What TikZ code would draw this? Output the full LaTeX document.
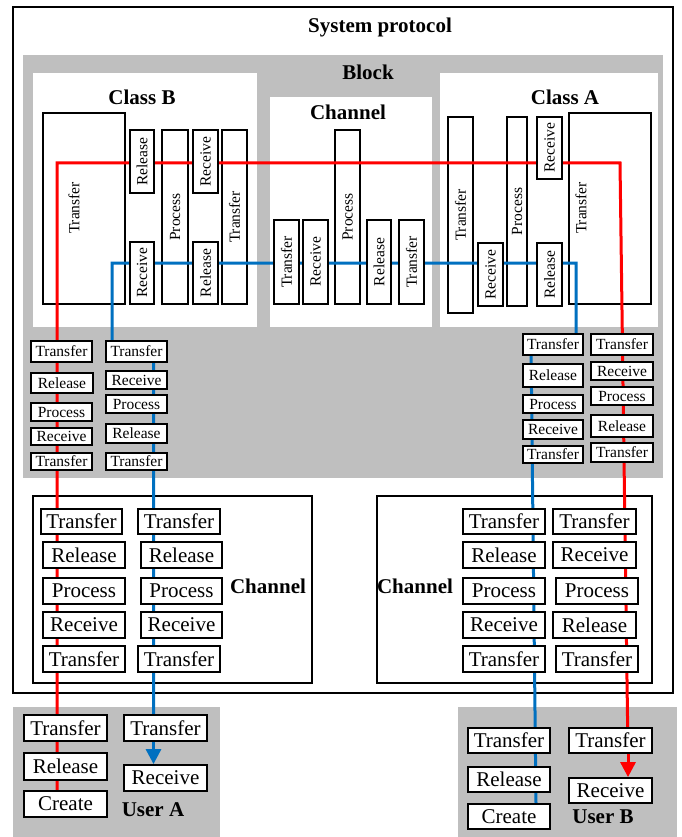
\documentclass[tikz,border=0pt]{standalone}
\usepackage{fontspec}
\setmainfont{Liberation Serif}
\usetikzlibrary{arrows.meta}
\pgfdeclarelayer{panel}
\pgfdeclarelayer{tall}
\pgfdeclarelayer{lines}
\pgfsetlayers{panel,tall,lines,main}
\definecolor{lgray}{RGB}{191,191,191}
\definecolor{lblue}{RGB}{0,112,192}
\newcommand{\hbx}[7]{\node[#1, minimum width={(#5-#3)*1pt}, minimum height={(#6-#4)*1pt}] (#2) at ({(#3+#5)/2},{(#4+#6)/2}) {#7};}
\newcommand{\vbx}[7]{\node[#1, rotate=90, minimum width={(#6-#4)*1pt}, minimum height={(#5-#3)*1pt}] (#2) at ({(#3+#5)/2},{(#4+#6)/2}) {#7};}
\tikzset{
  sbox/.style={draw, line width=1.8pt, fill=white, inner sep=0pt, font=\fontsize{15.5}{17}\selectfont},
  lbox/.style={draw, line width=1.8pt, fill=white, inner sep=0pt, font=\fontsize{21}{23}\selectfont},
  ttl/.style={font=\bfseries\fontsize{21}{23}\selectfont, inner sep=0pt},
  vtxt/.style={font=\fontsize{15.5}{17}\selectfont, inner sep=0pt, rotate=90},
  redl/.style={draw=red, line width=3pt},
  bluel/.style={draw=lblue, line width=3pt},
  tipped/.style={-{Triangle[length=15pt,width=15pt]}},
  frame/.style={draw, line width=1.6pt}
}
\begin{document}
\begin{tikzpicture}[x=1pt,y=-1pt]
\useasboundingbox (0,0) rectangle (681,837);
\begin{pgfonlayer}{panel}
\fill[white] (0,0) rectangle (681,837);
\draw[frame] (13,7) rectangle (673,693);
\fill[lgray] (23,55) rectangle (663,478);
\fill[white] (33,73) rectangle (257,327);
\fill[white] (270,97) rectangle (432,327);
\fill[white] (440,73) rectangle (658,327);
\draw[frame, fill=white] (33,496) rectangle (312,683);
\draw[frame, fill=white] (377,496) rectangle (652,683);
\fill[lgray] (13,707) rectangle (220,837);
\fill[lgray] (458,707) rectangle (677,837);
\end{pgfonlayer}
% titles
\node[ttl] (tSys) at (380,27) {System protocol};
\node[ttl] (tBlock) at (368,72) {Block};
\node[ttl] (tClB) at (142,97) {Class B};
\node[ttl] (tCh) at (348,112) {Channel};
\node[ttl] (tClA) at (565,97) {Class A};
\node[ttl] (tChL) at (268,586) {Channel};
\node[ttl] (tChR) at (415,586) {Channel};
\node[ttl] (tUA) at (153,810) {User A};
\node[ttl] (tUB) at (603,817) {User B};
% tall boxes (lines pass over them)
\begin{pgfonlayer}{tall}
\vbx{sbox}{bT1}{43}{113}{125}{304}{}
\node[vtxt] (bT1t) at (74,208) {Transfer};
\vbx{sbox}{bPro}{162}{130}{188}{304}{Process}
\vbx{sbox}{bT2}{222}{130}{247}{304}{Transfer}
\vbx{sbox}{mPro}{335}{130}{360}{304}{Process}
\vbx{sbox}{aT1}{448}{117}{473}{313}{Transfer}
\vbx{sbox}{aPro}{507}{117}{527}{306}{Process}
\vbx{sbox}{aT2}{569}{113}{651}{304}{}
\node[vtxt] (aT2t) at (581,208) {Transfer};
\end{pgfonlayer}
% Class B small boxes
\vbx{sbox}{bRel1}{130}{130}{154}{193}{Release}
\vbx{sbox}{bRec1}{193}{130}{218}{193}{Receive}
\vbx{sbox}{bRec2}{130}{242}{154}{304}{Receive}
\vbx{sbox}{bRel2}{193}{242}{218}{304}{Release}
% middle channel
\vbx{sbox}{mT1}{274}{220}{299}{304}{Transfer}
\vbx{sbox}{mRec}{303}{220}{328}{304}{Receive}
\vbx{sbox}{mRel}{367}{220}{391}{304}{Release}
\vbx{sbox}{mT2}{399}{220}{424}{304}{Transfer}
% Class A small
\vbx{sbox}{aRec1}{537}{117}{562}{179}{Receive}
\vbx{sbox}{aRec2}{478}{243}{503}{306}{Receive}
\vbx{sbox}{aRel}{537}{243}{562}{306}{Release}
% gray stacks left
\hbx{sbox}{gL1}{31}{341}{92}{362}{Transfer}
\hbx{sbox}{gL2}{31}{373}{93}{393}{Release}
\hbx{sbox}{gL3}{31}{403}{92}{421}{Process}
\hbx{sbox}{gL4}{31}{428}{92}{445}{Receive}
\hbx{sbox}{gL5}{31}{453}{92}{470}{Transfer}
\hbx{sbox}{gR1}{106}{341}{167}{362}{Transfer}
\hbx{sbox}{gR2}{106}{371}{167}{389}{Receive}
\hbx{sbox}{gR3}{106}{395}{167}{413}{Process}
\hbx{sbox}{gR4}{106}{424}{167}{443}{Release}
\hbx{sbox}{gR5}{106}{453}{167}{470}{Transfer}
% gray stacks right
\hbx{sbox}{hL1}{523}{334}{583}{355}{Transfer}
\hbx{sbox}{hL2}{523}{364}{583}{387}{Release}
\hbx{sbox}{hL3}{523}{395}{583}{413}{Process}
\hbx{sbox}{hL4}{523}{420}{583}{439}{Receive}
\hbx{sbox}{hL5}{523}{446}{583}{463}{Transfer}
\hbx{sbox}{hR1}{591}{334}{653}{355}{Transfer}
\hbx{sbox}{hR2}{591}{362}{653}{380}{Receive}
\hbx{sbox}{hR3}{591}{387}{653}{405}{Process}
\hbx{sbox}{hR4}{591}{415}{653}{437}{Release}
\hbx{sbox}{hR5}{591}{443}{653}{462}{Transfer}
% lower left channel
\hbx{lbox}{cL1}{41}{509}{122}{534}{Transfer}
\hbx{lbox}{cL2}{43}{542}{125}{568}{Release}
\hbx{lbox}{cL3}{43}{578}{125}{604}{Process}
\hbx{lbox}{cL4}{43}{612}{125}{638}{Receive}
\hbx{lbox}{cL5}{43}{646}{125}{672}{Transfer}
\hbx{lbox}{cR1}{138}{509}{220}{534}{Transfer}
\hbx{lbox}{cR2}{141}{542}{222}{568}{Release}
\hbx{lbox}{cR3}{141}{578}{222}{604}{Process}
\hbx{lbox}{cR4}{141}{612}{222}{638}{Receive}
\hbx{lbox}{cR5}{138}{646}{220}{672}{Transfer}
% lower right channel
\hbx{lbox}{dL1}{463}{509}{545}{534}{Transfer}
\hbx{lbox}{dL2}{463}{542}{545}{568}{Release}
\hbx{lbox}{dL3}{463}{578}{545}{604}{Process}
\hbx{lbox}{dL4}{463}{612}{545}{638}{Receive}
\hbx{lbox}{dL5}{463}{646}{545}{672}{Transfer}
\hbx{lbox}{dR1}{553}{509}{636}{534}{Transfer}
\hbx{lbox}{dR2}{553}{542}{636}{568}{Receive}
\hbx{lbox}{dR3}{556}{578}{638}{604}{Process}
\hbx{lbox}{dR4}{553}{612}{636}{638}{Release}
\hbx{lbox}{dR5}{556}{646}{638}{672}{Transfer}
% User A
\hbx{lbox}{uAT1}{24}{715}{107}{741}{Transfer}
\hbx{lbox}{uARel}{24}{753}{107}{780}{Release}
\hbx{lbox}{uACr}{24}{791}{107}{817}{Create}
\hbx{lbox}{uAT2}{124}{715}{207}{741}{Transfer}
\hbx{lbox}{uARec}{124}{765}{207}{791}{Receive}
% User B
\hbx{lbox}{uBT1}{468}{728}{550}{753}{Transfer}
\hbx{lbox}{uBRel}{468}{767}{550}{792}{Release}
\hbx{lbox}{uBCr}{468}{804}{550}{829}{Create}
\hbx{lbox}{uBT2}{569}{728}{652}{753}{Transfer}
\hbx{lbox}{uBRec}{569}{778}{652}{803}{Receive}
% connector lines
\coordinate (rL) at (57,163);
\coordinate (rR) at (620,163);
\coordinate (rX) at (628,0);
\coordinate (bL) at (112,263);
\coordinate (bR) at (576,263);
\coordinate (bX1) at (531,0);
\coordinate (bX2) at (536,0);
\coordinate (bX3) at (153.5,0);
\begin{pgfonlayer}{lines}
\draw[redl] (uACr.north -| rL) -- (rL) -- (rR) -- (uBT2.south -| rX);
\draw[redl, tipped] (uBT2.south -| rX) -- (uBRec.north -| rX);
\draw[bluel] (uBCr.north -| bX2) -- (hL1.center -| bX1) -- (hL1.center -| bR) -- (bR) -- (bL) -- (gR1.center -| bL) -- (gR1.center -| bX3) -- (uAT2.south -| bX3);
\draw[bluel, tipped] (uAT2.south -| bX3) -- (uARec.north -| bX3);
\end{pgfonlayer}
\end{tikzpicture}
\end{document}
